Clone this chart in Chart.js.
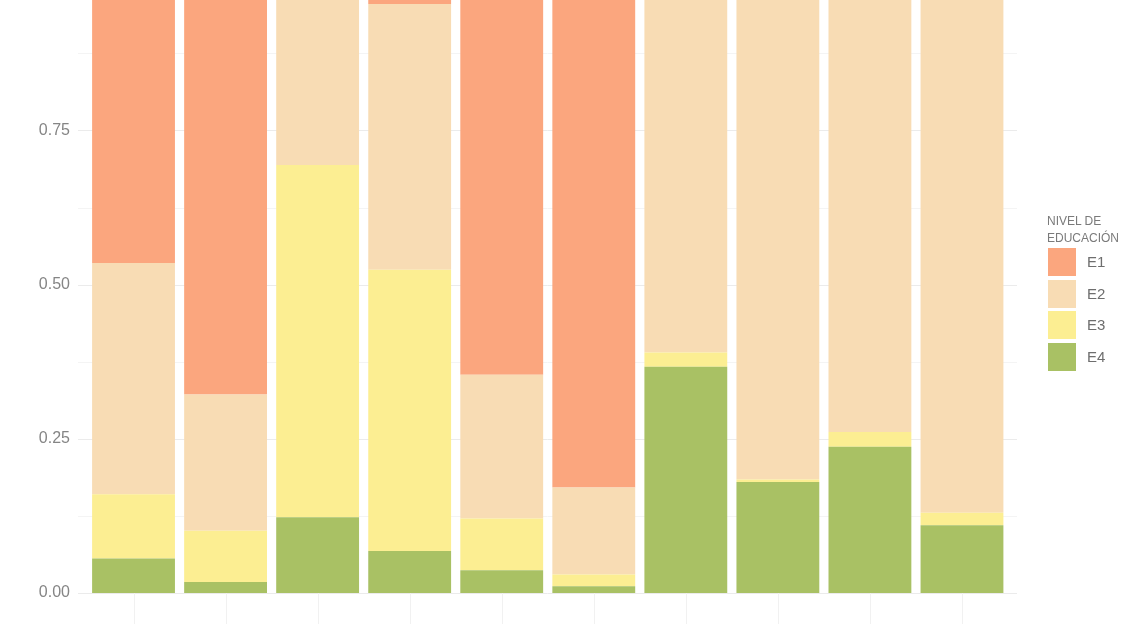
<!DOCTYPE html>
<html>
<head>
<meta charset="utf-8">
<script src="https://cdn.jsdelivr.net/npm/chart.js"></script>
<style>
    body { margin: 0; background: #fff; overflow: hidden; }
    #wrap { position: relative; width: 1140px; height: 624px; }
    #legend { position: absolute; left: 1047px; top: 213px; font-family: "Liberation Sans", Arial, sans-serif; }
    #legend .title { font-size: 12px; line-height: 17px; color: #7a7a7a; }
    #legend .item { position: absolute; left: 1px; width: 90px; height: 28px; }
    #legend .box { position: absolute; left: 0; top: 0; width: 28px; height: 28px; }
    #legend .lbl { position: absolute; left: 39px; top: 0; line-height: 28px; font-size: 15px; color: #6e6e6e; }
</style>
</head>
<body>
<div id="wrap">
    <canvas id="eduChart" width="1140" height="624"></canvas>
    <div id="legend"></div>
</div>
<script>
// datos (proporciones por barra)
const categories = ["1", "2", "3", "4", "5", "6", "7", "8", "9", "10"];
const seriesNames = ["E1", "E2", "E3", "E4"];
const seriesColors = ["#FBA67E", "#F8DCB4", "#FCEE92", "#A9C164"];

const E1 = [0.465, 0.678, 0.000, 0.045, 0.646, 0.829, 0.000, 0.000, 0.000, 0.000];
const E2 = [0.375, 0.221, 0.306, 0.431, 0.233, 0.141, 0.610, 0.816, 0.739, 0.870];
const E3 = [0.104, 0.083, 0.571, 0.456, 0.084, 0.019, 0.023, 0.004, 0.024, 0.020];
const E4 = [0.056, 0.018, 0.123, 0.068, 0.037, 0.011, 0.367, 0.180, 0.237, 0.110];

const yTicks = [0, 0.25, 0.5, 0.75];
const yMinor = [0.125, 0.375, 0.625, 0.875];
const yMax = 0.9616;

// grid estilo ggplot (se extiende un poco fuera del area)
const panelGrid = {
    id: "panelGrid",
    beforeDatasetsDraw(chart) {
        const ctx = chart.ctx;
        const area = chart.chartArea;
        const y = chart.scales.y;
        const x = chart.scales.x;
        const left = area.left - 9.5, right = area.right + 9;
        ctx.save();
        ctx.lineWidth = 1;
        ctx.strokeStyle = "#f4f4f4";
        yMinor.forEach(v => {
            const py = Math.round(y.getPixelForValue(v)) + 0.5;
            ctx.beginPath(); ctx.moveTo(left, py); ctx.lineTo(right, py); ctx.stroke();
        });
        ctx.strokeStyle = "#ebebeb";
        yTicks.forEach(v => {
            const py = Math.round(y.getPixelForValue(v)) + 0.5;
            ctx.beginPath(); ctx.moveTo(left, py); ctx.lineTo(right, py); ctx.stroke();
        });
        ctx.strokeStyle = "#f1f1f1";
        categories.forEach((c, i) => {
            const px = Math.round(x.getPixelForValue(i)) + 0.5;
            ctx.beginPath(); ctx.moveTo(px, area.bottom); ctx.lineTo(px, chart.height); ctx.stroke();
        });
        ctx.restore();
    }
};

const stackOrder = [3, 2, 1, 0]; // E4 abajo, E1 arriba
const allData = [E1, E2, E3, E4];

const ctx = document.getElementById("eduChart").getContext("2d");
const chart = new Chart(ctx, {
    type: "bar",
    data: {
        labels: categories,
        datasets: stackOrder.map(i => ({
            label: seriesNames[i],
            data: allData[i],
            backgroundColor: seriesColors[i],
            borderWidth: 0,
            barPercentage: 0.9,
            categoryPercentage: 1.0
        }))
    },
    options: {
        responsive: false,
        animation: false,
        layout: { padding: { top: 0, right: 132, bottom: 31, left: 0 } },
        plugins: {
            legend: { display: false },
            tooltip: { enabled: false }
        },
        scales: {
            x: {
                stacked: true,
                display: false
            },
            y: {
                stacked: true,
                min: 0,
                max: yMax,
                border: { display: false },
                grid: { display: false, drawTicks: false },
                afterFit(scale) {
                    scale.width = 87.5;
                    scale.paddingTop = 0;
                    scale.paddingBottom = 0;
                },
                ticks: {
                    stepSize: 0.25,
                    includeBounds: false,
                    padding: 17.5,
                    color: "#858585",
                    font: { family: "'Liberation Sans', Arial, sans-serif", size: 16 },
                    callback: v => v.toFixed(2)
                }
            }
        }
    },
    plugins: [panelGrid]
});

// leyenda
const legend = document.getElementById("legend");
legend.innerHTML = '<div class="title">NIVEL DE<br>EDUCACIÓN</div>';
seriesNames.forEach((name, i) => {
    const item = document.createElement("div");
    item.className = "item";
    item.style.top = (35 + i * 31.5) + "px";
    item.innerHTML = '<div class="box" style="background:' + seriesColors[i] + '"></div><div class="lbl">' + name + '</div>';
    legend.appendChild(item);
});
</script>
</body>
</html>
